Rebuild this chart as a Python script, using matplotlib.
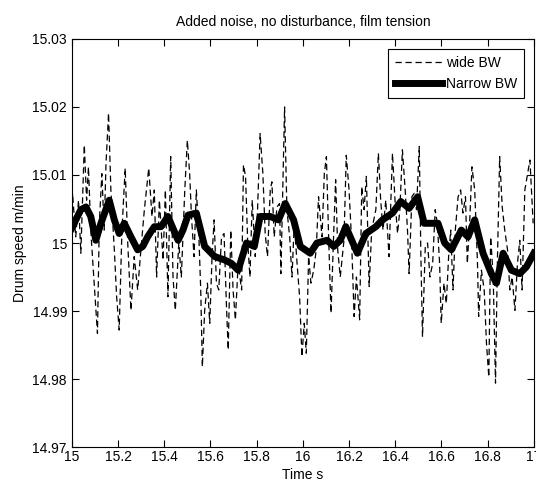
import matplotlib
matplotlib.use("Agg")
import matplotlib.pyplot as plt

plt.rcParams['font.family'] = ['Liberation Sans', 'DejaVu Sans']

# wide bandwidth response (dashed)
wide_t = [15.000, 15.003, 15.017, 15.029, 15.039, 15.054, 15.064, 15.072, 15.082, 15.093,
          15.111, 15.119, 15.130, 15.140, 15.148, 15.159, 15.169, 15.184, 15.194, 15.205,
          15.217, 15.231, 15.242, 15.256, 15.270, 15.285, 15.299, 15.314, 15.333, 15.347,
          15.357, 15.367, 15.379, 15.395, 15.405, 15.416, 15.428, 15.438, 15.448, 15.463,
          15.474, 15.489, 15.500, 15.510, 15.518, 15.529, 15.539, 15.549, 15.558, 15.565,
          15.575, 15.587, 15.597, 15.607, 15.616, 15.626, 15.636, 15.648, 15.659, 15.669,
          15.677, 15.688, 15.698, 15.708, 15.720, 15.735, 15.743, 15.752, 15.761, 15.771,
          15.781, 15.794, 15.804, 15.815, 15.827, 15.837, 15.847, 15.859, 15.866, 15.876,
          15.888, 15.899, 15.905, 15.914, 15.921, 15.931, 15.943, 15.953, 15.963, 15.975,
          15.986, 15.996, 16.006, 16.015, 16.025, 16.035, 16.047, 16.058, 16.068, 16.083,
          16.093, 16.102, 16.112, 16.122, 16.134, 16.142, 16.151, 16.162, 16.178, 16.188,
          16.200, 16.211, 16.222, 16.232, 16.246, 16.255, 16.265, 16.275, 16.287, 16.298,
          16.316, 16.327, 16.337, 16.347, 16.359, 16.373, 16.388, 16.399, 16.410, 16.420,
          16.431, 16.443, 16.453, 16.460, 16.472, 16.482, 16.492, 16.504, 16.511, 16.518,
          16.530, 16.540, 16.550, 16.562, 16.573, 16.582, 16.592, 16.599, 16.611, 16.621,
          16.631, 16.640, 16.650, 16.660, 16.672, 16.683, 16.693, 16.704, 16.712, 16.722,
          16.732, 16.744, 16.756, 16.761, 16.773, 16.785, 16.795, 16.805, 16.813, 16.824,
          16.834, 16.842, 16.852, 16.863, 16.874, 16.886, 16.896, 16.906, 16.918, 16.929,
          16.939, 16.949, 16.961, 16.973, 16.983, 16.997]
wide_v = [15.0019, 15.0073, 15.0009, 15.0063, 14.9985, 15.0144, 15.0063, 15.0112, 15.0019, 14.9960,
          14.9867, 15.0029, 15.0102, 15.0019, 15.0117, 15.0191, 15.0078, 14.9990, 14.9921, 14.9872,
          15.0019, 15.0110, 15.0000, 14.9901, 14.9980, 14.9931, 14.9990, 15.0049, 15.0110, 15.0039,
          15.0078, 14.9950, 15.0063, 14.9975, 15.0078, 14.9921, 15.0127, 14.9950, 14.9901, 15.0000,
          14.9950, 15.0078, 15.0151, 15.0102, 15.0039, 14.9980, 15.0078, 15.0019, 14.9931, 14.9818,
          14.9901, 14.9941, 14.9882, 14.9980, 15.0034, 14.9941, 14.9931, 15.0009, 15.0014, 14.9911,
          14.9843, 15.0019, 14.9931, 14.9887, 14.9970, 14.9931, 15.0115, 15.0098, 15.0004, 14.9950,
          15.0063, 14.9980, 15.0049, 15.0161, 15.0102, 15.0014, 14.9980, 15.0078, 15.0090, 15.0009,
          15.0053, 15.0058, 14.9955, 15.0093, 15.0200, 15.0049, 15.0009, 14.9950, 15.0029, 14.9970,
          14.9921, 14.9833, 14.9882, 14.9838, 14.9980, 14.9941, 14.9960, 14.9990, 15.0068, 15.0009,
          15.0102, 15.0127, 15.0004, 14.9897, 15.0019, 15.0093, 14.9990, 14.9950, 15.0004, 15.0129,
          15.0078, 15.0004, 14.9892, 14.9950, 14.9887, 15.0083, 15.0049, 15.0098, 14.9936, 15.0019,
          15.0049, 15.0132, 15.0063, 15.0019, 15.0063, 14.9980, 15.0132, 15.0063, 15.0014, 15.0049,
          15.0137, 15.0078, 15.0019, 14.9955, 15.0068, 15.0073, 15.0049, 15.0142, 14.9980, 14.9862,
          14.9995, 15.0000, 14.9950, 14.9970, 15.0049, 15.0029, 14.9970, 14.9882, 14.9941, 14.9911,
          14.9980, 15.0019, 14.9931, 15.0019, 15.0068, 15.0078, 15.0044, 15.0068, 14.9970, 15.0029,
          15.0112, 15.0078, 14.9970, 14.9892, 14.9960, 14.9931, 14.9852, 14.9803, 15.0009, 14.9950,
          14.9794, 14.9970, 15.0127, 15.0053, 15.0019, 14.9990, 14.9931, 14.9950, 14.9901, 14.9970,
          15.0004, 14.9931, 15.0078, 15.0102, 15.0122, 15.0029]

# narrow bandwidth response (thick line)
narrow_t = [15.000, 15.010, 15.039, 15.061, 15.082, 15.104, 15.126, 15.162, 15.184, 15.205,
            15.227, 15.256, 15.285, 15.307, 15.328, 15.357, 15.386, 15.416, 15.460, 15.481,
            15.503, 15.539, 15.575, 15.619, 15.662, 15.691, 15.720, 15.756, 15.790, 15.815,
            15.859, 15.895, 15.924, 15.960, 15.989, 16.032, 16.061, 16.105, 16.134, 16.162,
            16.186, 16.236, 16.273, 16.316, 16.345, 16.388, 16.424, 16.460, 16.497, 16.525,
            16.562, 16.585, 16.614, 16.643, 16.686, 16.715, 16.744, 16.780, 16.816, 16.838,
            16.867, 16.903, 16.939, 16.968, 17.000]
narrow_v = [15.0022, 15.0029, 15.0049, 15.0053, 15.0039, 15.0004, 15.0029, 15.0063, 15.0034, 15.0014,
            15.0029, 15.0009, 14.9990, 14.9995, 15.0009, 15.0024, 15.0024, 15.0039, 15.0004, 15.0019,
            15.0041, 15.0044, 14.9995, 14.9980, 14.9975, 14.9970, 14.9960, 15.0000, 14.9995, 15.0039,
            15.0039, 15.0034, 15.0058, 15.0034, 14.9995, 14.9985, 15.0000, 15.0004, 14.9995, 15.0004,
            15.0024, 14.9985, 15.0014, 15.0024, 15.0034, 15.0044, 15.0061, 15.0051, 15.0068, 15.0029,
            15.0029, 15.0029, 15.0000, 14.9990, 15.0019, 15.0009, 15.0034, 14.9985, 14.9955, 14.9941,
            14.9985, 14.9960, 14.9955, 14.9965, 14.9985]

xticks = [15, 15.2, 15.4, 15.6, 15.8, 16, 16.2, 16.4, 16.6, 16.8, 17]
xticklabels = ['15', '15.2', '15.4', '15.6', '15.8', '16', '16.2', '16.4', '16.6', '16.8', '17']
yticks = [14.97, 14.98, 14.99, 15.0, 15.01, 15.02, 15.03]
yticklabels = ['14.97', '14.98', '14.99', '15', '15.01', '15.02', '15.03']

fig = plt.figure(figsize=(5.36, 4.87), dpi=100)
ax = fig.add_axes([0.134, 0.082, 0.862, 0.838])

ax.plot(wide_t, wide_v, color='black', linestyle='--', dashes=(5, 3), linewidth=0.9, label='wide BW')
ax.plot(narrow_t, narrow_v, color='black', linewidth=5, label='Narrow BW')

ax.set_xlim(15, 17)
ax.set_ylim(14.97, 15.03)
ax.set_xticks(xticks)
ax.set_xticklabels(xticklabels)
ax.set_yticks(yticks)
ax.set_yticklabels(yticklabels)
ax.tick_params(direction='in', length=5, top=True, right=True, labelsize=10, width=0.8)
ax.tick_params(axis='x', pad=2)
for s in ax.spines.values():
    s.set_linewidth(0.8)

ax.set_title('Added noise, no disturbance, film tension', fontsize=10, pad=9)
ax.set_xlabel('Time s', fontsize=10, labelpad=3)
ax.set_ylabel('Drum speed m/min', fontsize=10, labelpad=4)

leg = ax.legend(loc='upper right', fontsize=10, fancybox=False, framealpha=1,
                edgecolor='black', handlelength=3.4, borderaxespad=0.7, borderpad=0.5,
                handletextpad=0.3, labelspacing=0.55)
leg.get_frame().set_linewidth(0.8)

fig.savefig('out.png', dpi=100)
